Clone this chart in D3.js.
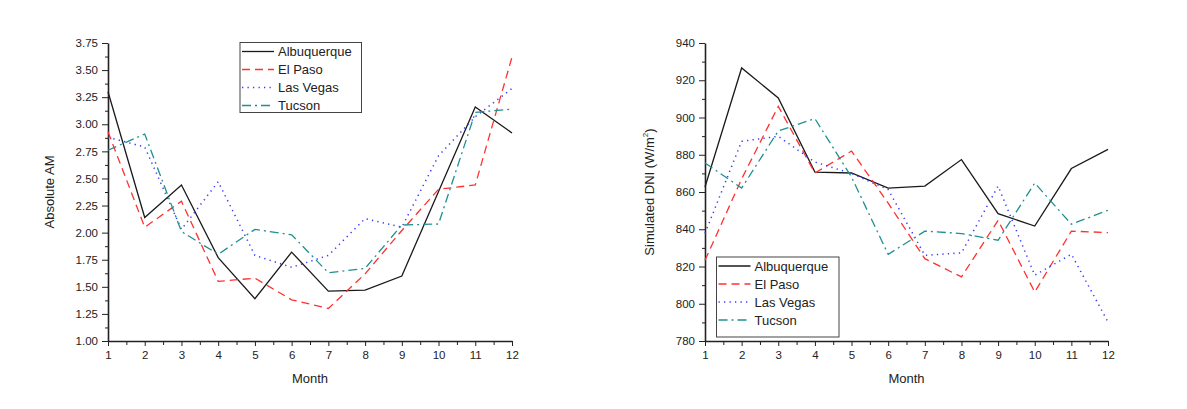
<!DOCTYPE html>
<html><head><meta charset="utf-8">
<script src="https://cdn.jsdelivr.net/npm/d3@7"></script>
<style>body{margin:0;background:#fff;}svg{display:block;font-family:Arial,"Liberation Sans",sans-serif;}</style>
</head><body>
<svg id="c" width="1187" height="409"></svg>
<script>
const months = [1,2,3,4,5,6,7,8,9,10,11,12];
const seriesNames = ["Albuquerque","El Paso","Las Vegas","Tucson"];
// Left panel: Absolute AM
const amAlbuquerque = [3.30,2.14,2.44,1.77,1.39,1.82,1.46,1.47,1.60,2.38,3.16,2.92];
const amElPaso      = [2.93,2.05,2.29,1.55,1.58,1.38,1.30,1.62,2.02,2.40,2.44,3.62];
const amLasVegas    = [2.88,2.79,2.03,2.47,1.79,1.68,1.79,2.13,2.05,2.71,3.07,3.33];
const amTucson      = [2.76,2.91,2.01,1.80,2.03,1.98,1.63,1.67,2.07,2.08,3.11,3.14];
// Right panel: Simulated DNI
const dniAlbuquerque = [862.7,926.6,910.5,870.7,870.2,862.1,863.2,877.4,848.4,841.7,872.6,882.9];
const dniElPaso      = [823.3,867,906,870.2,882,854,824.2,814.4,844.8,806.3,839,838.2];
const dniLasVegas    = [837.8,887.2,889.9,876.1,869.9,861.3,826,827.3,863.2,815.3,826.6,790.2];
const dniTucson      = [875.6,862.1,892.8,899.4,868,826.5,839,837.7,834.1,864.8,842.7,850.2];
const amTicks = [1.00,1.25,1.50,1.75,2.00,2.25,2.50,2.75,3.00,3.25,3.50,3.75];
const dniTicks = [780,800,820,840,860,880,900,920,940];

const styles = [
  {color:"#1a1a1a", dash:null, w:1.3},
  {color:"#ff3030", dash:"8,5", w:1.3},
  {color:"#3a3aff", dash:"1.3,4.2", w:1.5},
  {color:"#1f9090", dash:"9,4,2,4", w:1.3}
];

const svg = d3.select("#c");

function panel(cfg){
  const g = svg.append("g");
  const x = d3.scaleLinear().domain([1,12]).range([cfg.x0, cfg.x1]);
  const y = d3.scaleLinear().domain(cfg.ydom).range([cfg.y0, cfg.y1]);
  const minorY = [];
  for (let i=0;i<cfg.yticks.length-1;i++) minorY.push((cfg.yticks[i]+cfg.yticks[i+1])/2);
  const minorX = [];
  for (let m=1;m<12;m++) minorX.push(m+0.5);
  g.append("g").attr("transform",`translate(${cfg.x0},0)`)
    .call(d3.axisLeft(y).tickValues(minorY).tickSize(3).tickFormat(""))
    .call(a=>a.select(".domain").remove())
    .call(a=>a.selectAll("line").attr("stroke","#222").attr("stroke-width",1));
  g.append("g").attr("transform",`translate(0,${cfg.y0})`)
    .call(d3.axisBottom(x).tickValues(minorX).tickSize(4).tickFormat(""))
    .call(a=>a.select(".domain").remove())
    .call(a=>a.selectAll("line").attr("stroke","#222").attr("stroke-width",1));
  const ya = g.append("g").attr("transform",`translate(${cfg.x0},0)`)
    .call(d3.axisLeft(y).tickValues(cfg.yticks).tickSize(6).tickSizeOuter(0).tickPadding(4).tickFormat(cfg.fmt));
  ya.select(".domain").attr("stroke","#222").attr("stroke-width",1.6);
  ya.selectAll("line").attr("stroke","#222").attr("stroke-width",1);
  ya.selectAll("text").attr("font-size",11.5).attr("fill","#222").attr("font-family","Arial,'Liberation Sans',sans-serif");
  const xa = g.append("g").attr("transform",`translate(0,${cfg.y0})`)
    .call(d3.axisBottom(x).tickValues(months).tickSize(5).tickSizeOuter(0).tickPadding(5).tickFormat(d3.format("d")));
  xa.select(".domain").attr("stroke","#222").attr("stroke-width",1.6);
  xa.selectAll("line").attr("stroke","#222").attr("stroke-width",1);
  xa.selectAll("text").attr("font-size",11.5).attr("fill","#222").attr("font-family","Arial,'Liberation Sans',sans-serif");
  const line = d3.line().x((d,i)=>x(months[i])).y(d=>y(d));
  cfg.data.forEach((s,i)=>{
    g.append("path").datum(s).attr("d",line).attr("fill","none")
      .attr("stroke",styles[i].color).attr("stroke-width",styles[i].w)
      .attr("stroke-dasharray",styles[i].dash);
  });
  g.append("text").attr("x",(cfg.x0+cfg.x1)/2).attr("y",383).attr("text-anchor","middle")
    .attr("font-size",13).attr("fill","#222").text("Month");
  const yt = g.append("text").attr("transform",`translate(${cfg.ytx},${(cfg.y0+cfg.y1)/2}) rotate(-90)`)
    .attr("text-anchor","middle").attr("font-size",13).attr("fill","#222");
  cfg.ytitle(yt);
  const L = cfg.leg;
  g.append("rect").attr("x",L.x).attr("y",L.y).attr("width",L.w).attr("height",L.h)
    .attr("fill","#fff").attr("stroke","#444").attr("stroke-width",1);
  seriesNames.forEach((n,i)=>{
    const yy = L.y + 9 + i*18;
    g.append("line").attr("x1",L.x+2).attr("x2",L.x+34).attr("y1",yy).attr("y2",yy)
      .attr("stroke",styles[i].color).attr("stroke-width",styles[i].w).attr("stroke-dasharray",styles[i].dash);
    g.append("text").attr("x",L.x+38).attr("y",yy+4.5).attr("font-size",13).attr("fill","#222").text(n);
  });
}

panel({x0:108,x1:512,y0:341,y1:43,ydom:[1,3.75],yticks:amTicks,fmt:d3.format(".2f"),
  data:[amAlbuquerque,amElPaso,amLasVegas,amTucson], ytx:53.5,
  ytitle:t=>t.text("Absolute AM"),
  leg:{x:240,y:42.5,w:121.5,h:70}});

panel({x0:705,x1:1108,y0:341,y1:43,ydom:[780,940],yticks:dniTicks,fmt:d3.format("d"),
  data:[dniAlbuquerque,dniElPaso,dniLasVegas,dniTucson], ytx:654,
  ytitle:t=>{t.append("tspan").text("Simulated DNI (W/m");
    t.append("tspan").attr("font-size",8).attr("dy",-6).text("2");
    t.append("tspan").attr("dy",6).text(")");},
  leg:{x:716.5,y:257,w:122.5,h:80}});
</script>
</body></html>
